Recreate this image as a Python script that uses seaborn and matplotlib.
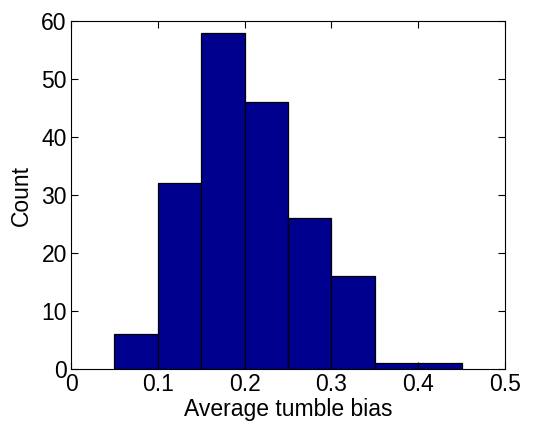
import matplotlib
matplotlib.use("Agg")
import matplotlib.pyplot as plt
import seaborn as sns
import numpy as np
import pandas as pd

bin_centers = [0.075, 0.125, 0.175, 0.225, 0.275, 0.325, 0.375, 0.425]
counts = [6, 32, 58, 46, 26, 16, 1, 1]
bin_edges = [0.05, 0.10, 0.15, 0.20, 0.25, 0.30, 0.35, 0.40, 0.45]
x_ticks = [0, 0.1, 0.2, 0.3, 0.4, 0.5]
x_tick_labels = ["0", "0.1", "0.2", "0.3", "0.4", "0.5"]
y_ticks = [0, 10, 20, 30, 40, 50, 60]

sns.set_style("white")
plt.rcParams['font.family'] = ['Liberation Sans', 'DejaVu Sans']
plt.rcParams['text.color'] = 'black'
plt.rcParams['axes.labelcolor'] = 'black'

df = pd.DataFrame({"bias": bin_centers, "count": counts})

fig = plt.figure(figsize=(5.35, 4.22), dpi=100)
ax = fig.add_axes([71/535, 1 - 369/422, (505-71)/535, (369-21)/422])
sns.histplot(data=df, x="bias", weights="count", bins=bin_edges, ax=ax,
             color="#00008F", alpha=1, edgecolor="black", linewidth=0.9)

ax.set_xlim(0, 0.5)
ax.set_ylim(0, 60)
ax.set_xticks(x_ticks)
ax.set_xticklabels(x_tick_labels)
ax.set_yticks(y_ticks)
ax.set_xlabel("Average tumble bias", fontsize=16.5, labelpad=1, color="black")
ax.set_ylabel("Count", fontsize=16.5, labelpad=6, color="black")
ax.tick_params(direction="in", length=5, width=0.8, labelsize=16.5,
               top=True, right=True, bottom=True, left=True, pad=3,
               colors="black", labelcolor="black")
for s in ax.spines.values():
    s.set_visible(True)
    s.set_color("black")
    s.set_linewidth(0.8)

fig.savefig("out.png", dpi=100)
